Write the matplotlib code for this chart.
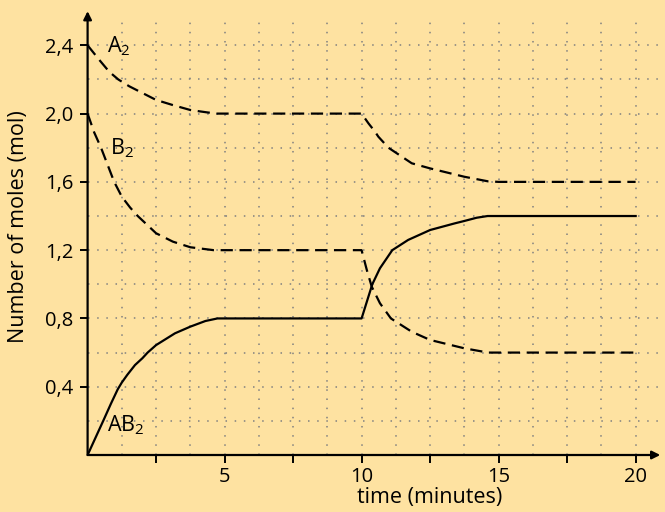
import matplotlib
matplotlib.use("Agg")
import matplotlib.pyplot as plt

# ---- data ----
a2_t = [0, 0.43, 0.79, 1.12, 1.52, 2.01, 2.5, 3.11, 3.75, 4.32, 4.7,
        10.0, 10.25, 10.49, 10.61, 10.98, 11.83, 12.5, 13.75, 14.62, 15.0, 20.0]
a2_v = [2.4, 2.314, 2.245, 2.2, 2.16, 2.12, 2.08, 2.05, 2.021, 2.008, 2.0,
        2.0, 1.943, 1.894, 1.865, 1.8, 1.709, 1.679, 1.63, 1.603, 1.6, 1.6]

b2_t = [0, 0.24, 0.49, 0.73, 0.97, 1.25, 1.55, 1.83, 2.5, 3.11, 3.75, 4.6,
        10.0, 10.19, 10.37, 10.67, 11.07, 11.83, 12.5, 13.75, 14.62, 20.0]
b2_v = [2.0, 1.89, 1.8, 1.70, 1.6, 1.513, 1.45, 1.4, 1.299, 1.25, 1.217, 1.2,
        1.2, 1.084, 0.986, 0.889, 0.8, 0.722, 0.674, 0.625, 0.6, 0.6]

ab2_t = [0, 0.57, 0.85, 1.10, 1.25, 1.45, 1.73, 2.0, 2.19, 2.5, 3.19, 3.75, 4.3, 4.74,
         10.0, 10.39, 10.67, 11.12, 11.7, 12.5, 13.4, 13.75, 14.2, 14.6, 20.0]
ab2_v = [0, 0.2, 0.30, 0.385, 0.425, 0.47, 0.527, 0.567, 0.6, 0.644, 0.713, 0.752, 0.785, 0.8,
         0.8, 1.0, 1.094, 1.2, 1.26, 1.318, 1.357, 1.371, 1.39, 1.4, 1.4]

x_ticks = [2.5, 5, 7.5, 10, 12.5, 15, 17.5, 20]
x_labels = ["", "5", "", "10", "", "15", "", "20"]
y_ticks = [0.4, 0.8, 1.2, 1.6, 2.0, 2.4]
y_labels = ["0,4", "0,8", "1,2", "1,6", "2,0", "2,4"]
x_grid = [1.25 * i for i in range(1, 17)]
y_grid = [0.2 * i for i in range(1, 13)]

bg = "#FEE2A1"
plt.rcParams["font.family"] = ["Open Sans", "DejaVu Sans"]
plt.rcParams["mathtext.fontset"] = "custom"
plt.rcParams["mathtext.rm"] = "Open Sans"
plt.rcParams["mathtext.it"] = "Open Sans"

fig = plt.figure(figsize=(6.65, 5.12), dpi=100, facecolor=bg)
ax = fig.add_axes([87.6 / 665, 57 / 512, 1 - 87.6 / 665, 455 / 512])
ax.set_facecolor(bg)
xmax = (665 - 87.6) / 27.4
ymax = 455 / 170.7
ax.set_xlim(0, xmax)
ax.set_ylim(0, ymax)
for s in ax.spines.values():
    s.set_visible(False)

# dotted grid
dot = (0, (1, 5))
for xv in x_grid:
    ax.plot([xv, xv], [0, 2.554], color="#808080", lw=1.1, ls=dot, zorder=1)
for yv in y_grid:
    ax.plot([0, xmax], [yv, yv], color="#808080", lw=1.1, ls=dot, zorder=1)

# axes with arrows
ax.annotate("", xy=(0, 2.6), xytext=(0, 0), xycoords="data",
            arrowprops=dict(arrowstyle="-|>", lw=1.6, color="black", mutation_scale=12, shrinkA=0, shrinkB=0),
            annotation_clip=False, zorder=5)
ax.annotate("", xy=(20.9, 0), xytext=(0, 0), xycoords="data",
            arrowprops=dict(arrowstyle="-|>", lw=1.6, color="black", mutation_scale=12, shrinkA=0, shrinkB=0),
            annotation_clip=False, zorder=5)

# curves
ax.plot(a2_t, a2_v, color="black", lw=1.6, dashes=(5.5, 3), zorder=4)
ax.plot(b2_t, b2_v, color="black", lw=1.6, dashes=(5.5, 3), zorder=4)
ax.plot(ab2_t, ab2_v, color="black", lw=1.6, zorder=4, solid_joinstyle="round")

ax.text(0.72, 2.396, r"A$_2$", fontsize=15.5, va="center", ha="left", zorder=6)
ax.text(0.80, 1.80, r"B$_2$", fontsize=15.5, va="center", ha="left", zorder=6)
ax.text(0.72, 0.176, r"AB$_2$", fontsize=15.5, va="center", ha="left", zorder=6)

ax.set_xticks(x_ticks)
ax.set_xticklabels(x_labels)
ax.set_yticks(y_ticks)
ax.set_yticklabels(y_labels)
ax.tick_params(axis="both", direction="out", length=6, width=1.4, labelsize=14.5, colors="black")
ax.tick_params(axis="x", pad=3)
ax.tick_params(axis="y", pad=4)

ax.set_xlabel("time (minutes)", fontsize=15.5, labelpad=0)
ax.xaxis.set_label_coords((430 - 87.6) / (665 - 87.6), -0.071)
ax.set_ylabel("Number of moles (mol)", fontsize=15.5)
ax.yaxis.set_label_coords(-(87.6 - 29) / (665 - 87.6), (455 - 227) / 455)

fig.savefig("out.png", dpi=100, facecolor=bg)
